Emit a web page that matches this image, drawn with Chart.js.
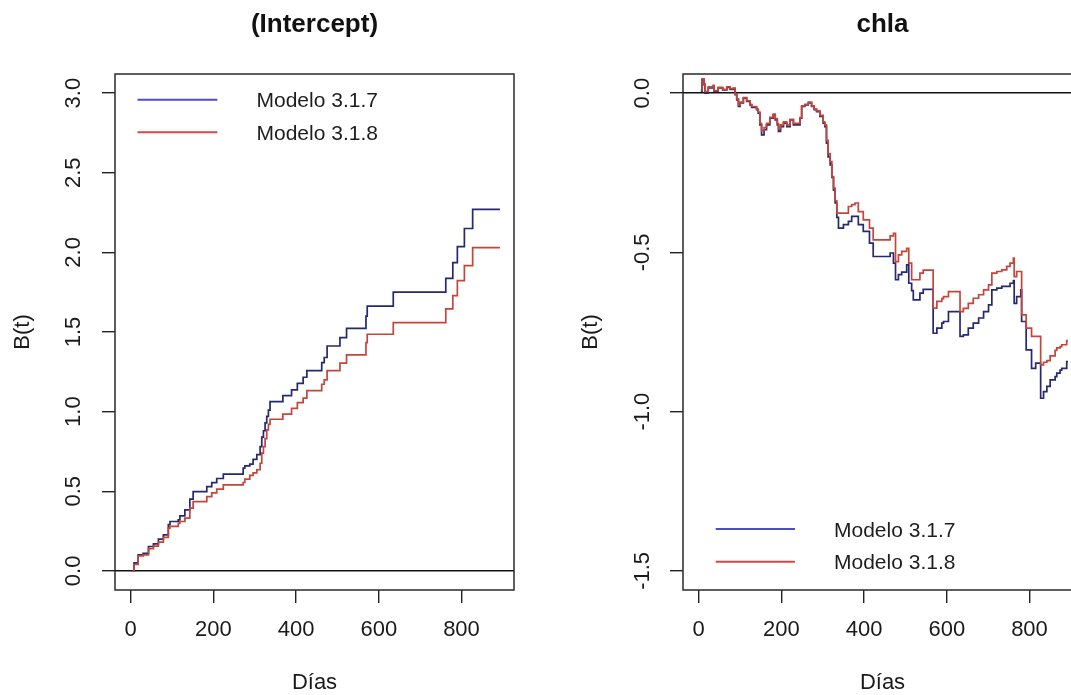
<!DOCTYPE html>
<html lang="es">
<head>
<meta charset="UTF-8">
<title>B(t) - Modelos 3.1.7 y 3.1.8</title>
<script src="https://cdn.jsdelivr.net/npm/chart.js@4"></script>
<style>
  html, body { margin: 0; padding: 0; width: 1071px; height: 695px; overflow: hidden; background: #fff; }
  canvas { position: absolute; top: 0; }
</style>
</head>
<body>
<canvas id="interceptChart" width="629" height="695" style="left:0;width:629px;height:695px"></canvas>
<canvas id="chlaChart" width="629" height="695" style="left:568px;width:629px;height:695px"></canvas>
<script>
// ---- data ----
const modelNames = ["Modelo 3.1.7", "Modelo 3.1.8"];
const dayTicks = [0, 200, 400, 600, 800];
const interceptTicks = [0, 0.5, 1, 1.5, 2, 2.5, 3];
const chlaTicks = [-1.5, -1, -0.5, 0];

const interceptDays = [5, 8, 18, 30, 43, 55, 67, 79, 91, 95, 115, 119, 131, 143, 151, 184, 196, 208, 224, 272,
  276, 288, 296, 305, 313, 317, 321, 325, 329, 333, 337, 368, 389, 403, 417, 426, 462, 468, 475, 506,
  522, 569, 572, 635, 762, 779, 790, 807, 827, 893];
const interceptM317 = [0, 0.05, 0.10, 0.11, 0.153, 0.17, 0.20, 0.226, 0.29, 0.31, 0.32, 0.345, 0.383, 0.45, 0.498, 0.529, 0.554, 0.58, 0.607, 0.645,
  0.66, 0.67, 0.70, 0.73, 0.78, 0.84, 0.88, 0.93, 0.97, 1.01, 1.063, 1.10, 1.136, 1.178, 1.216, 1.257, 1.308, 1.34, 1.412, 1.465,
  1.523, 1.60, 1.663, 1.75, 1.837, 1.935, 2.036, 2.15, 2.27, 2.27];
const interceptM318 = [0, 0.04, 0.094, 0.10, 0.14, 0.155, 0.18, 0.21, 0.268, 0.28, 0.299, 0.31, 0.331, 0.394, 0.435, 0.466, 0.49, 0.513, 0.54, 0.555,
  0.576, 0.60, 0.615, 0.635, 0.676, 0.74, 0.78, 0.83, 0.885, 0.92, 0.952, 0.984, 1.021, 1.057, 1.085, 1.132, 1.172, 1.20, 1.257, 1.304,
  1.356, 1.433, 1.486, 1.559, 1.645, 1.728, 1.822, 1.917, 2.03, 2.03];

const chlaDays = [5, 8, 13, 15, 23, 35, 37, 47, 58, 68, 76, 84, 88, 92, 96, 100, 108, 116, 124, 128,
  140, 144, 148, 152, 158, 164, 172, 180, 185, 190, 193, 198, 205, 213, 221, 229, 245, 249, 257, 265,
  273, 279, 285, 293, 301, 305, 309, 313, 318, 322, 326, 330, 334, 338, 350, 362, 370, 378, 386, 398,
  413, 422, 463, 471, 476, 483, 491, 503, 508, 515, 519, 535, 543, 567, 576, 588, 592, 604, 632, 640,
  652, 664, 677, 689, 701, 709, 721, 733, 745, 753, 761, 763, 769, 779, 781, 792, 805, 815, 827, 834,
  842, 850, 862, 866, 874, 878, 890, 893];
const chlaM317 = [0.005, 0.042, 0.026, 0.0, 0.016, 0.021, 0.005, 0.016, 0.01, 0.018, 0.012, 0.014, -0.005, -0.021, -0.042, -0.031, -0.016, -0.026, -0.037, -0.045,
  -0.052, -0.063, -0.1, -0.131, -0.115, -0.1, -0.079, -0.068, -0.084, -0.1, -0.12, -0.105, -0.094, -0.105, -0.084, -0.1, -0.079, -0.042, -0.037, -0.031,
  -0.042, -0.052, -0.058, -0.073, -0.094, -0.105, -0.157, -0.2, -0.225, -0.265, -0.305, -0.345, -0.39, -0.424, -0.413, -0.403, -0.387, -0.387, -0.413, -0.434,
  -0.471, -0.513, -0.502, -0.534, -0.586, -0.57, -0.562, -0.539, -0.597, -0.62, -0.649, -0.628, -0.616, -0.754, -0.738, -0.722, -0.717, -0.686, -0.764, -0.759,
  -0.738, -0.722, -0.706, -0.686, -0.665, -0.618, -0.612, -0.607, -0.607, -0.597, -0.589, -0.66, -0.639, -0.618, -0.717, -0.806, -0.864, -0.848, -0.958, -0.937,
  -0.921, -0.9, -0.89, -0.879, -0.87, -0.864, -0.843, -0.843];
const chlaM318 = [0.01, 0.045, 0.03, 0.005, 0.02, 0.024, 0.008, 0.018, 0.012, 0.02, 0.014, 0.016, -0.003, -0.018, -0.038, -0.028, -0.014, -0.024, -0.035, -0.042,
  -0.05, -0.06, -0.095, -0.118, -0.108, -0.095, -0.076, -0.066, -0.08, -0.096, -0.112, -0.1, -0.09, -0.1, -0.082, -0.095, -0.077, -0.04, -0.035, -0.028,
  -0.04, -0.05, -0.056, -0.07, -0.09, -0.1, -0.148, -0.19, -0.215, -0.262, -0.298, -0.338, -0.377, -0.377, -0.377, -0.356, -0.35, -0.345, -0.372, -0.398,
  -0.424, -0.461, -0.448, -0.44, -0.529, -0.508, -0.497, -0.487, -0.534, -0.586, -0.586, -0.565, -0.556, -0.675, -0.654, -0.645, -0.639, -0.623, -0.686, -0.676,
  -0.66, -0.644, -0.633, -0.618, -0.602, -0.565, -0.56, -0.555, -0.544, -0.534, -0.518, -0.576, -0.56, -0.56, -0.696, -0.738, -0.764, -0.764, -0.853, -0.845,
  -0.84, -0.825, -0.808, -0.8, -0.796, -0.79, -0.777, -0.777];

// ---- drawing ----
const FONT = '"Liberation Sans", Arial, Helvetica, sans-serif';
const lineColors = ['#25296f', '#c4463a'];
const legendColors = ['#4b4bd6', '#dc4545'];

const toPoints = (xs, ys) => xs.map((x, i) => ({ x: x, y: ys[i] }));

// box round the plot region plus an R-like legend without frame
const rFrame = {
  id: 'rFrame',
  afterDatasetsDraw(chart, args, opts) {
    const { ctx, chartArea: a } = chart;
    ctx.save();
    ctx.strokeStyle = '#2a2a2a';
    ctx.lineWidth = 1.5;
    ctx.strokeRect(a.left, a.top, a.right - a.left, a.bottom - a.top);

    ctx.font = '21px ' + FONT;
    ctx.textAlign = 'left';
    ctx.textBaseline = 'middle';
    chart.data.datasets.forEach((ds, i) => {
      const y = (opts.fromBottom ? a.bottom : a.top) + opts.rows[i];
      ctx.strokeStyle = legendColors[i];
      ctx.lineWidth = 2;
      ctx.beginPath();
      ctx.moveTo(a.left + opts.x0, y);
      ctx.lineTo(a.left + opts.x1, y);
      ctx.stroke();
      ctx.fillStyle = '#1e1e1e';
      ctx.fillText(ds.label, a.left + opts.textX, y + 2);
    });
    ctx.restore();
  }
};

function makePanel(id, title, days, m317, m318, yMin, yMax, yTicks, yPad, legend) {
  return new Chart(document.getElementById(id), {
    type: 'line',
    data: {
      datasets: [
        { label: modelNames[0], data: toPoints(days, m317), borderColor: lineColors[0], order: 2 },
        { label: modelNames[1], data: toPoints(days, m318), borderColor: lineColors[1], order: 1 }
      ]
    },
    options: {
      responsive: false,
      animation: false,
      devicePixelRatio: 1,
      layout: { padding: { top: 0, left: 0, right: 115, bottom: 0 } },
      elements: {
        line: { stepped: true, borderWidth: 1.7, fill: false, tension: 0 },
        point: { radius: 0, hoverRadius: 0 }
      },
      plugins: {
        legend: { display: false },
        tooltip: { enabled: false },
        title: {
          display: true, text: title, fullSize: false, color: '#111',
          font: { family: FONT, size: 26, weight: 'bold', lineHeight: 1.2 },
          padding: { top: 9.6, bottom: 33.2 }
        },
        rFrame: legend
      },
      scales: {
        x: {
          type: 'linear', min: -38, max: 927,
          afterBuildTicks: s => { s.ticks = dayTicks.map(v => ({ value: v })); },
          afterFit: s => { s.height = 105; },
          border: { display: false },
          grid: { drawOnChartArea: false, tickLength: 13, tickColor: '#222', lineWidth: 1.4 },
          ticks: { autoSkip: false, maxRotation: 0, padding: 14, color: '#1a1a1a', font: { family: FONT, size: 22 } },
          title: {
            display: true, text: 'Días', color: '#1a1a1a',
            font: { family: FONT, size: 22, lineHeight: 1 }, padding: { top: 0, bottom: 1 }
          }
        },
        y: {
          type: 'linear', min: yMin, max: yMax,
          afterBuildTicks: s => { s.ticks = yTicks.map(v => ({ value: v })); },
          afterFit: s => { s.width = 115; },
          border: { display: false },
          grid: {
            tickLength: 13, tickColor: '#222', lineWidth: 1.4,
            color: c => (c.tick && c.tick.value === 0) ? '#111' : 'rgba(0,0,0,0)'
          },
          ticks: {
            minRotation: 90, maxRotation: 90, crossAlign: 'center', padding: yPad,
            color: '#1a1a1a', font: { family: FONT, size: 22 },
            callback: v => v.toFixed(1)
          },
          title: {
            display: true, text: 'B(t)', color: '#1a1a1a',
            font: { family: FONT, size: 22, lineHeight: 1 }, padding: { top: 11.5, bottom: 0 }
          }
        }
      }
    },
    plugins: [rFrame]
  });
}

makePanel('interceptChart', '(Intercept)', interceptDays, interceptM317, interceptM318,
  -0.12, 3.12, interceptTicks, 12.3,
  { x0: 22.5, x1: 102.4, textX: 141.5, rows: [25.7, 58.3], fromBottom: false });

makePanel('chlaChart', 'chla', chlaDays, chlaM317, chlaM318,
  -1.56, 0.06, chlaTicks, 8.6,
  { x0: 32.7, x1: 112, textX: 151, rows: [-61, -28.3], fromBottom: true });
</script>
</body>
</html>
